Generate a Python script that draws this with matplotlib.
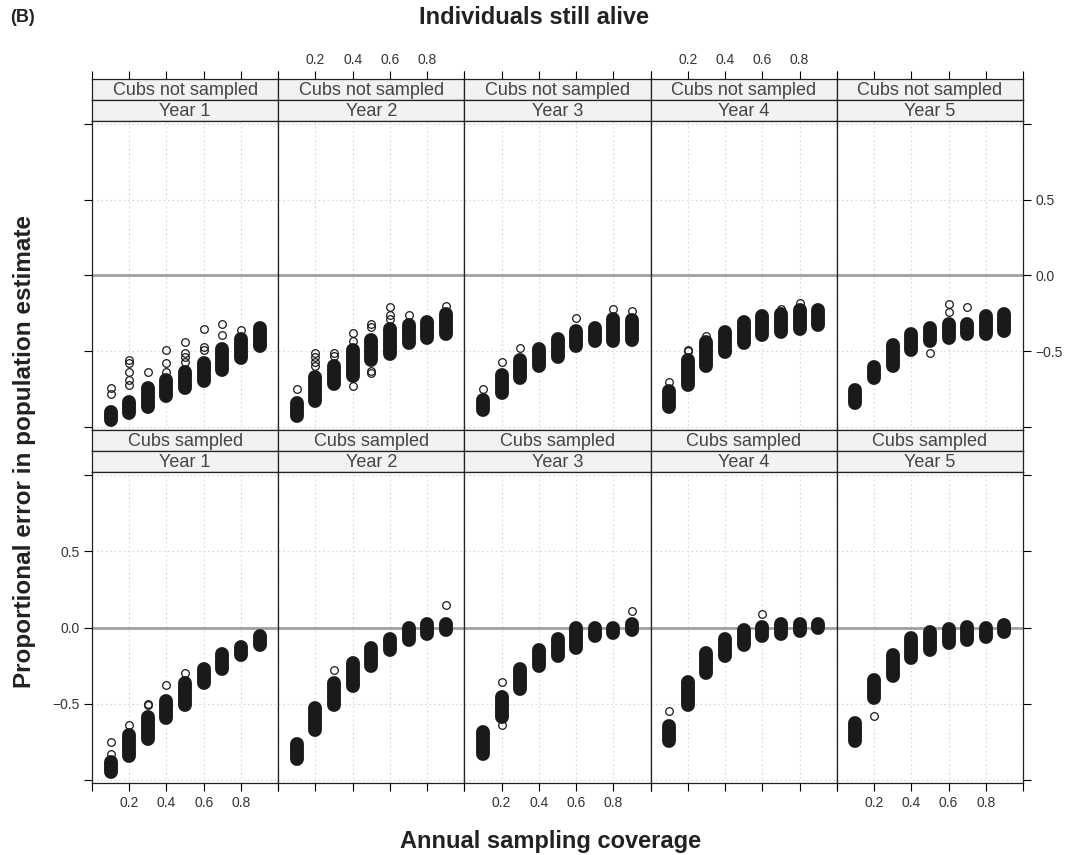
import numpy as np
import matplotlib
matplotlib.use("Agg")
import matplotlib.pyplot as plt

plt.rcParams['font.family'] = ['Liberation Sans', 'DejaVu Sans']

coverage = [0.1, 0.2, 0.3, 0.4, 0.5, 0.6, 0.7, 0.8, 0.9]
years = ["Year 1", "Year 2", "Year 3", "Year 4", "Year 5"]
groups = ["Cubs not sampled", "Cubs sampled"]

# cubs not sampled: lower / upper edge of each replicate cluster, per year
notsamp_lo = [
    [-1.00, -0.95, -0.91, -0.84, -0.79, -0.74, -0.67, -0.59, -0.51],
    [-0.97, -0.875, -0.76, -0.71, -0.60, -0.56, -0.49, -0.46, -0.43],
    [-0.93, -0.82, -0.72, -0.645, -0.58, -0.51, -0.48, -0.48, -0.47],
    [-0.91, -0.77, -0.645, -0.55, -0.49, -0.44, -0.415, -0.395, -0.375],
    [-0.89, -0.72, -0.645, -0.54, -0.48, -0.46, -0.43, -0.43, -0.41],
]
notsamp_hi = [
    [-0.855, -0.79, -0.70, -0.645, -0.59, -0.53, -0.44, -0.375, -0.30],
    [-0.80, -0.625, -0.55, -0.45, -0.38, -0.31, -0.28, -0.26, -0.21],
    [-0.78, -0.61, -0.51, -0.44, -0.375, -0.32, -0.30, -0.24, -0.25],
    [-0.72, -0.51, -0.395, -0.33, -0.26, -0.22, -0.21, -0.18, -0.18],
    [-0.71, -0.56, -0.415, -0.34, -0.30, -0.275, -0.275, -0.22, -0.21],
]
notsamp_out_x = [
    [0.1, 0.1, 0.2, 0.2, 0.2, 0.2, 0.2, 0.3, 0.4, 0.4, 0.4, 0.5, 0.5, 0.5, 0.5, 0.6, 0.6, 0.6, 0.7, 0.7, 0.8],
    [0.1, 0.2, 0.2, 0.2, 0.2, 0.3, 0.3, 0.4, 0.4, 0.4, 0.5, 0.5, 0.5, 0.5, 0.6, 0.6, 0.6, 0.7, 0.9],
    [0.1, 0.2, 0.3, 0.6, 0.8, 0.9],
    [0.1, 0.2, 0.2, 0.3, 0.7, 0.8],
    [0.5, 0.6, 0.6, 0.7],
]
notsamp_out_y = [
    [-0.74, -0.78, -0.56, -0.58, -0.64, -0.69, -0.72, -0.64, -0.49, -0.58, -0.64, -0.44, -0.51, -0.54, -0.57, -0.355, -0.47, -0.49, -0.32, -0.39, -0.36],
    [-0.75, -0.51, -0.54, -0.57, -0.60, -0.51, -0.53, -0.38, -0.43, -0.73, -0.32, -0.34, -0.63, -0.645, -0.21, -0.26, -0.29, -0.26, -0.20],
    [-0.75, -0.57, -0.48, -0.28, -0.22, -0.235],
    [-0.70, -0.49, -0.50, -0.40, -0.22, -0.18],
    [-0.51, -0.185, -0.24, -0.21],
]

# cubs sampled
samp_lo = [
    [-0.99, -0.89, -0.775, -0.64, -0.555, -0.41, -0.32, -0.225, -0.16],
    [-0.91, -0.72, -0.555, -0.43, -0.30, -0.19, -0.13, -0.09, -0.06],
    [-0.875, -0.63, -0.45, -0.30, -0.23, -0.18, -0.10, -0.08, -0.06],
    [-0.79, -0.555, -0.345, -0.23, -0.16, -0.10, -0.09, -0.07, -0.045],
    [-0.79, -0.51, -0.365, -0.245, -0.19, -0.145, -0.125, -0.11, -0.075],
]
samp_hi = [
    [-0.84, -0.66, -0.54, -0.44, -0.32, -0.23, -0.13, -0.08, -0.01],
    [-0.72, -0.48, -0.32, -0.19, -0.09, -0.03, 0.04, 0.07, 0.07],
    [-0.64, -0.41, -0.23, -0.10, -0.03, 0.04, 0.04, 0.04, 0.07],
    [-0.60, -0.31, -0.125, -0.03, 0.03, 0.05, 0.07, 0.07, 0.07],
    [-0.58, -0.30, -0.135, -0.025, 0.015, 0.035, 0.05, 0.04, 0.06],
]
samp_out_x = [
    [0.1, 0.1, 0.2, 0.3, 0.3, 0.4, 0.5],
    [0.3, 0.9],
    [0.2, 0.2, 0.9],
    [0.1, 0.6],
    [0.2],
]
samp_out_y = [
    [-0.75, -0.83, -0.64, -0.50, -0.51, -0.38, -0.30],
    [-0.28, 0.15],
    [-0.36, -0.64, 0.11],
    [-0.55, 0.086],
    [-0.58],
]

x_ticks = [0.0, 0.2, 0.4, 0.6, 0.8, 1.0]
x_labels = ["", "0.2", "0.4", "0.6", "0.8", ""]
y_ticks = [-1.0, -0.5, 0.0, 0.5, 1.0]
y_labels = ["", "\u22120.5", "0.0", "0.5", ""]

W, H = 1073, 855
fig = plt.figure(figsize=(W / 100, H / 100), dpi=100)


def box(x0, y0, x1, y1):
    return [x0 / W, 1 - y1 / H, (x1 - x0) / W, (y1 - y0) / H]


pw = 186.2
left = 92
rows = [
    # strip1 top, strip2 top, panel top, panel bottom
    (79, 100, 121, 430),
    (430, 451, 472, 783),
]
data = [
    (notsamp_lo, notsamp_hi, notsamp_out_x, notsamp_out_y),
    (samp_lo, samp_hi, samp_out_x, samp_out_y),
]
ink = "#1a1a1a"
lab_col = "#333333"

for r, (s1, s2, pt, pb) in enumerate(rows):
    lo_all, hi_all, ox_all, oy_all = data[r]
    for j in range(5):
        x0 = left + j * pw
        x1 = x0 + pw

        # strips
        for k, (ya, yb, txt) in enumerate([(s1, s2, groups[r]), (s2, pt, years[j])]):
            sax = fig.add_axes(box(x0, ya, x1, yb))
            sax.set_facecolor("#f2f2f2")
            sax.set_xlim(0, 1)
            sax.set_ylim(0, 1)
            sax.set_yticks([])
            sax.set_xticks(x_ticks)
            sax.set_xticklabels(x_labels)
            sax.tick_params(axis="x", bottom=False, labelbottom=False,
                            top=(r == 0 and k == 0),
                            labeltop=(r == 0 and k == 0 and j in (1, 3)),
                            direction="out", length=6, width=0.8,
                            labelsize=10, labelcolor=lab_col, pad=3)
            for sp in sax.spines.values():
                sp.set_linewidth(0.9)
                sp.set_color("#222222")
            sax.text(0.5, 0.45, txt, ha="center", va="center",
                     fontsize=13, color="#444444")

        # panel
        ax = fig.add_axes(box(x0, pt, x1, pb))
        ax.set_xlim(0, 1)
        ax.set_ylim(-1.02, 1.02)
        ax.set_xticks(x_ticks)
        ax.set_xticklabels(x_labels)
        ax.set_yticks(y_ticks)
        ax.set_yticklabels(y_labels)
        ax.grid(True, color="#d8d8d8", linestyle=(0, (1.5, 2.5)), linewidth=0.8)
        ax.set_axisbelow(True)
        ax.axhline(0, color="#a0a0a0", lw=2, zorder=1.5)

        # dense cluster of replicates drawn as a rounded bar, stragglers as circles
        inset = 0.045
        for c, lo, hi in zip(coverage, lo_all[j], hi_all[j]):
            ax.plot([c, c], [lo + inset, hi - inset], color=ink, lw=10,
                    solid_capstyle="round", zorder=3)
        ax.plot(ox_all[j], oy_all[j], "o", mfc="none", mec=ink, ms=5.5,
                mew=0.9, zorder=4)

        ax.tick_params(direction="out", length=6, width=0.8, labelsize=10,
                       labelcolor=lab_col, pad=3,
                       top=False, labeltop=False,
                       bottom=(r == 1), labelbottom=(r == 1 and j in (0, 2, 4)),
                       left=(j == 0), labelleft=(j == 0 and r == 1),
                       right=(j == 4), labelright=(j == 4 and r == 0))
        for sp in ax.spines.values():
            sp.set_linewidth(0.9)
            sp.set_color("#222222")

fig.text(0.498, 1 - 18 / H, "Individuals still alive", ha="center", va="center",
         fontsize=17, fontweight="bold", color="#222222")
fig.text(10 / W, 1 - 18 / H, "(B)", ha="left", va="center",
         fontsize=13, fontweight="bold", color="#222222")
fig.text(0.513, 1 - 841 / H, "Annual sampling coverage", ha="center", va="center",
         fontsize=17, fontweight="bold", color="#222222")
fig.text(25 / W, 1 - 452 / H, "Proportional error in population estimate",
         ha="center", va="center", rotation=90,
         fontsize=17.5, fontweight="bold", color="#222222")

fig.savefig("out.png", dpi=100)
